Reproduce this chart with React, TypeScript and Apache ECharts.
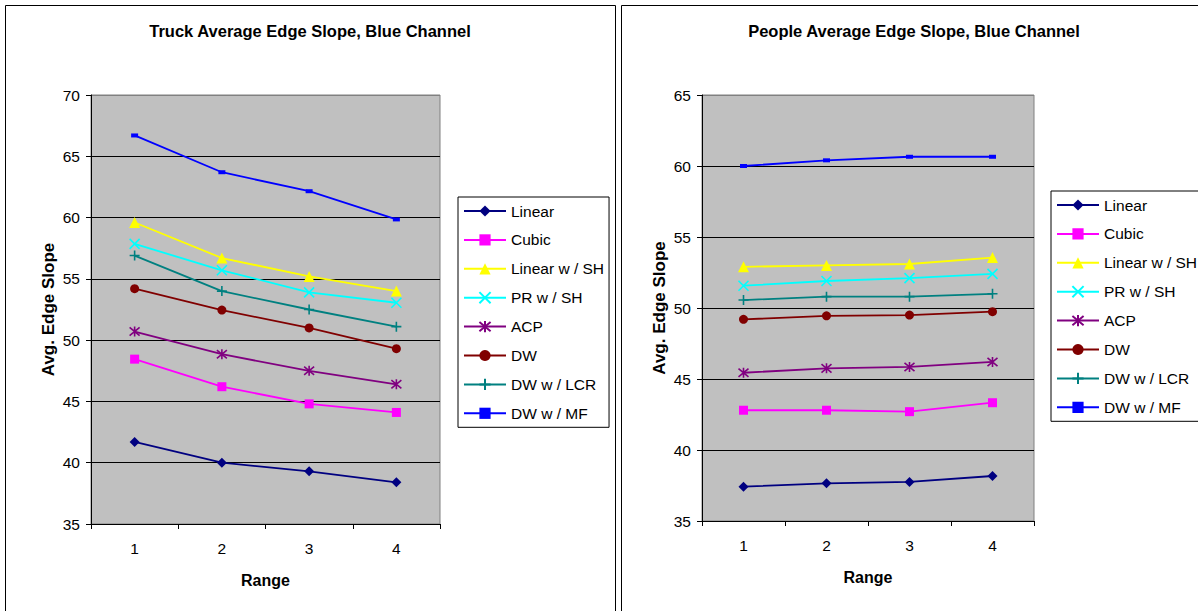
import React, { useEffect, useRef } from "react";
import * as echarts from "echarts";

const categories = ["1", "2", "3", "4"];
const yTicksTruck = [35, 40, 45, 50, 55, 60, 65, 70];
const yTicksPeople = [35, 40, 45, 50, 55, 60, 65];

const seriesNames = ["Linear", "Cubic", "Linear w / SH", "PR w / SH", "ACP", "DW", "DW w / LCR", "DW w / MF"];
const seriesColors = ["#000080", "#FF00FF", "#FFFF00", "#00FFFF", "#800080", "#800000", "#008080", "#0000FF"];

const truckLinear = [41.7, 40.0, 39.3, 38.4];
const truckCubic = [48.45, 46.2, 44.8, 44.1];
const truckLinearSH = [59.6, 56.7, 55.2, 54.0];
const truckPRSH = [57.85, 55.7, 53.9, 53.05];
const truckACP = [50.7, 48.85, 47.5, 46.4];
const truckDW = [54.2, 52.45, 51.0, 49.3];
const truckDWLCR = [56.9, 54.0, 52.5, 51.1];
const truckDWMF = [66.7, 63.7, 62.15, 59.85];

const peopleLinear = [37.42, 37.65, 37.75, 38.17];
const peopleCubic = [42.8, 42.8, 42.7, 43.33];
const peopleLinearSH = [52.9, 53.0, 53.1, 53.55];
const peoplePRSH = [51.57, 51.9, 52.1, 52.4];
const peopleACP = [45.44, 45.75, 45.85, 46.2];
const peopleDW = [49.2, 49.45, 49.5, 49.74];
const peopleDWLCR = [50.56, 50.8, 50.8, 51.0];
const peopleDWMF = [60.0, 60.4, 60.65, 60.65];

const truckData = [truckLinear, truckCubic, truckLinearSH, truckPRSH, truckACP, truckDW, truckDWLCR, truckDWMF];
const peopleData = [peopleLinear, peopleCubic, peopleLinearSH, peoplePRSH, peopleACP, peopleDW, peopleDWLCR, peopleDWMF];

const FONT = '"Liberation Sans", Arial, sans-serif';

const symbols: any[] = [
  { symbol: "diamond", size: 10, stroke: false },
  { symbol: "rect", size: 9, stroke: false },
  { symbol: "triangle", size: 11, stroke: false },
  { symbol: "path://M0,0L10,10M0,10L10,0", size: 10, stroke: true },
  { symbol: "path://M0,0L10,10M0,10L10,0M5,-1L5,11", size: 10, stroke: true },
  { symbol: "circle", size: 9, stroke: false },
  { symbol: "path://M5,0L5,10M0,5L10,5", size: 10, stroke: true },
  { symbol: "rect", size: [7, 4], stroke: false },
];

function makeSeries(data: number[][], idx: number) {
  return seriesNames.map((name, i) => ({
    type: "line",
    name,
    xAxisIndex: idx,
    yAxisIndex: idx,
    data: data[i],
    symbol: symbols[i].symbol,
    symbolSize: symbols[i].size,
    showAllSymbol: true,
    lineStyle: { color: seriesColors[i], width: 1.8 },
    itemStyle: symbols[i].stroke
      ? { color: seriesColors[i], borderColor: seriesColors[i], borderWidth: 1.6 }
      : { color: seriesColors[i], borderWidth: 0 },
    emphasis: { disabled: true },
  }));
}

function yAxis(idx: number, min: number, max: number, n: number) {
  const colors = [] as string[];
  for (let k = 0; k < n - 1; k++) colors.push("#000000");
  colors.push("#808080");
  return {
    type: "value",
    gridIndex: idx,
    min,
    max,
    interval: 5,
    name: "Avg. Edge Slope",
    nameLocation: "middle",
    nameGap: 34,
    nameTextStyle: { fontFamily: FONT, fontSize: 17, fontWeight: "bold", color: "#000" },
    axisLine: { show: true, lineStyle: { color: "#000", width: 1 } },
    axisTick: { show: true, length: 5, lineStyle: { color: "#000" } },
    axisLabel: { fontFamily: FONT, fontSize: 15.5, color: "#000", margin: 11 },
    splitLine: { show: true, lineStyle: { color: colors, width: 1 } },
  };
}

function xAxis(idx: number) {
  return {
    type: "category",
    gridIndex: idx,
    data: categories,
    boundaryGap: true,
    name: "Range",
    nameLocation: "middle",
    nameGap: 48,
    nameTextStyle: { fontFamily: FONT, fontSize: 16, fontWeight: "bold", color: "#000" },
    axisLine: { show: true, onZero: false, lineStyle: { color: "#000", width: 1 } },
    axisTick: { show: true, interval: 0, alignWithLabel: false, length: 5, lineStyle: { color: "#000" } },
    axisLabel: { fontFamily: FONT, fontSize: 15.5, color: "#000", margin: 16, interval: 0 },
    splitLine: { show: false },
  };
}

function legend(left: number, top: number) {
  return {
    orient: "vertical",
    left,
    top,
    data: seriesNames,
    itemWidth: 42,
    itemHeight: 14,
    itemGap: 12.9,
    padding: [6, 5, 6, 5],
    borderColor: "#000",
    borderWidth: 1,
    backgroundColor: "#fff",
    textStyle: { fontFamily: FONT, fontSize: 15.5, color: "#000", padding: [0, 0, 0, 0] },
    selectedMode: false,
  };
}

export default function App() {
  const ref = useRef<HTMLDivElement>(null);
  useEffect(() => {
    document.body.style.margin = "0";
    const chart = echarts.init(ref.current!, null, { renderer: "svg" });
    const titleStyle = { fontFamily: FONT, fontSize: 16.5, fontWeight: "bold", color: "#000" };
    chart.setOption({
      animation: false,
      backgroundColor: "#ffffff",
      title: [
        { text: "Truck Average Edge Slope, Blue Channel", left: 310, top: 22, padding: 0, textAlign: "center", textStyle: titleStyle },
        { text: "People Average Edge Slope, Blue Channel", left: 914, top: 22, padding: 0, textAlign: "center", textStyle: titleStyle },
      ],
      grid: [
        { left: 91, top: 95, width: 349, height: 429, show: true, backgroundColor: "#C0C0C0", borderColor: "#808080", borderWidth: 1 },
        { left: 702, top: 95, width: 332, height: 426, show: true, backgroundColor: "#C0C0C0", borderColor: "#808080", borderWidth: 1 },
      ],
      xAxis: [xAxis(0), xAxis(1)],
      yAxis: [
        yAxis(0, yTicksTruck[0], yTicksTruck[yTicksTruck.length - 1], yTicksTruck.length),
        yAxis(1, yTicksPeople[0], yTicksPeople[yTicksPeople.length - 1], yTicksPeople.length),
      ],
      legend: [legend(458, 197), legend(1051, 191)],
      graphic: [
        { type: "rect", shape: { x: 5.5, y: 5.5, width: 610, height: 700 }, style: { fill: "none", stroke: "#000", lineWidth: 1 }, silent: true },
        { type: "rect", shape: { x: 621.5, y: 5.5, width: 600, height: 700 }, style: { fill: "none", stroke: "#000", lineWidth: 1 }, silent: true },
      ],
      series: [...makeSeries(truckData, 0), ...makeSeries(peopleData, 1)],
    });
    return () => chart.dispose();
  }, []);
  return <div ref={ref} style={{ width: 1198, height: 611 }} />;
}
